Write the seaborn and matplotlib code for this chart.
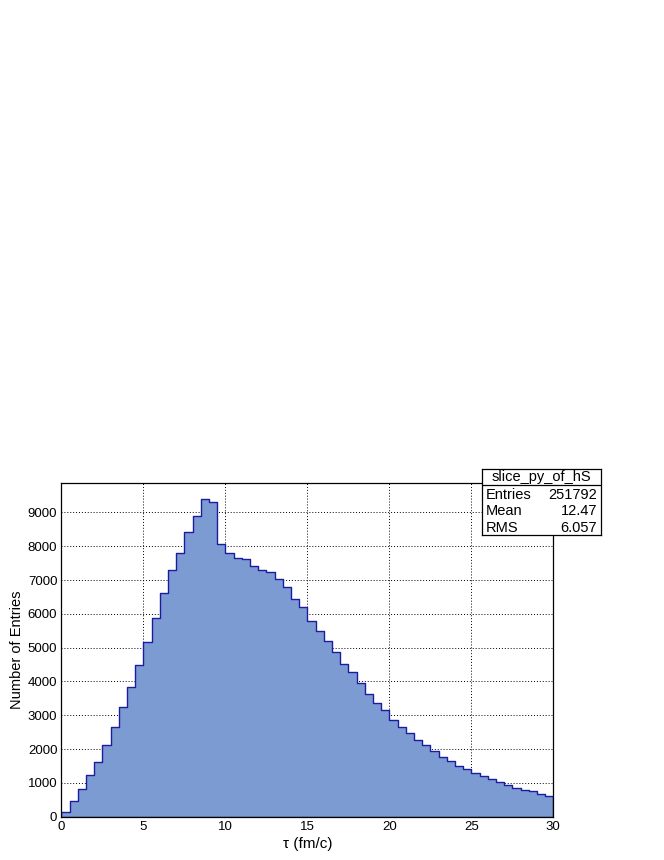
import numpy as np
import pandas as pd
import matplotlib
matplotlib.use("Agg")
import matplotlib.pyplot as plt
from matplotlib.ticker import MultipleLocator
import seaborn as sns

# histogram contents, 60 bins of 0.5 fm/c between 0 and 30
bin_lo, bin_hi, bin_w = 0.0, 30.0, 0.5
counts = [
    140, 480, 830, 1230, 1620, 2110, 2650, 3250, 3830, 4490,
    5180, 5870, 6610, 7300, 7790, 8430, 8880, 9390, 9300, 8070,
    7790, 7650, 7610, 7400, 7310, 7230, 7020, 6780, 6440, 6210,
    5800, 5500, 5200, 4860, 4530, 4270, 3950, 3640, 3353, 3155,
    2869, 2643, 2475, 2258, 2110, 1953, 1756, 1656, 1515, 1405,
    1302, 1203, 1105, 1026, 947, 858, 789, 760, 671, 621,
]
stats_title = "slice_py_of_hS"
stats_names = ["Entries", "Mean", "RMS"]
stats_values = ["251792", "12.47", "6.057"]
x_title = "\u03c4 (fm/c)"
y_title = "Number of Entries"

centers = bin_lo + bin_w * (np.arange(len(counts)) + 0.5)
df = pd.DataFrame({"tau": centers, "n": counts})

sns.set_style("white")
plt.rcParams["font.family"] = ["Liberation Sans", "DejaVu Sans"]
plt.rcParams["text.color"] = "black"
plt.rcParams["axes.labelcolor"] = "black"

fig = plt.figure(figsize=(6.64, 8.6), dpi=100)
ax = fig.add_axes([0.0926, 0.0503, 0.7407, 0.3877])

sns.histplot(
    data=df, x="tau", weights="n", binwidth=bin_w, binrange=(bin_lo, bin_hi),
    element="step", fill=True, alpha=1, facecolor="#7b9bd2",
    edgecolor="#1c1ca0", linewidth=1.0, ax=ax,
)

ax.set_xlim(bin_lo, bin_hi)
ax.set_ylim(0, max(counts) * 1.05)
ax.xaxis.set_major_locator(MultipleLocator(5))
ax.xaxis.set_minor_locator(MultipleLocator(1))
ax.yaxis.set_major_locator(MultipleLocator(1000))
ax.yaxis.set_minor_locator(MultipleLocator(200))
ax.tick_params(which="both", direction="in", top=False, right=False,
               labelsize=9.5, colors="black", pad=3)
ax.tick_params(which="major", length=6, width=0.8)
ax.tick_params(which="minor", length=3, width=0.8)
ax.grid(True, which="major", color="black", linestyle=(0, (1, 2)), linewidth=0.7)
for sp in ax.spines.values():
    sp.set_color("black")
    sp.set_linewidth(0.9)

ax.set_xlabel(x_title, fontsize=11, labelpad=3)
ax.set_ylabel(y_title, fontsize=10.5, labelpad=3)

# ROOT-like stats box
box = fig.add_axes([0.7255, 0.3776, 0.1792, 0.0767])
box.set_xticks([])
box.set_yticks([])
box.set_xlim(0, 1)
box.set_ylim(0, 1)
for sp in box.spines.values():
    sp.set_color("black")
    sp.set_linewidth(0.9)
box.axhline(0.762, color="black", linewidth=0.9)
box.text(0.5, 0.88, stats_title, ha="center", va="center", fontsize=10.5)
for i, (nm, val) in enumerate(zip(stats_names, stats_values)):
    y = 0.615 - i * 0.252
    box.text(0.035, y, nm, ha="left", va="center", fontsize=10.5)
    box.text(0.97, y, val, ha="right", va="center", fontsize=10.5)

fig.savefig("out.png", dpi=100, facecolor="white")
